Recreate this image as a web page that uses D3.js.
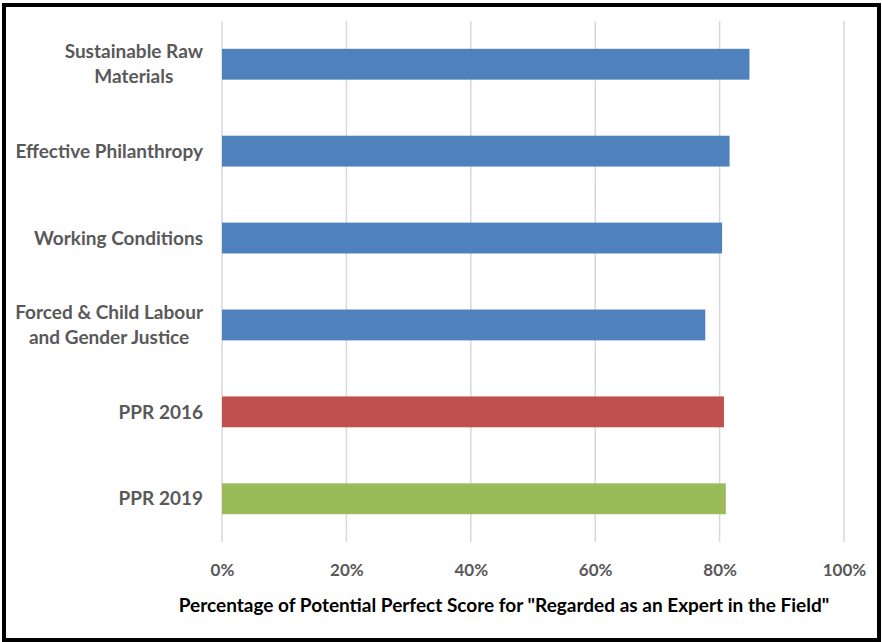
<!DOCTYPE html>
<html>
<head>
<meta charset="utf-8">
<script src="https://cdn.jsdelivr.net/npm/d3@7"></script>
<style>
  html, body { margin: 0; padding: 0; background: #fff; }
  svg { display: block; }
  text { font-family: "Lato", "Open Sans", sans-serif; font-weight: 700; }
</style>
</head>
<body>
<svg id="chart" width="882" height="642"></svg>
<script>
// Category labels (each line of a wrapped label is its own entry)
const categories = [
  ["Sustainable Raw", "Materials"],
  ["Effective Philanthropy"],
  ["Working Conditions"],
  ["Forced & Child Labour", "and Gender Justice"],
  ["PPR 2016"],
  ["PPR 2019"]
];
// Share of the potential perfect score, per category
const values = [0.848, 0.816, 0.804, 0.777, 0.807, 0.810];
const barColors = ["#4f81bd", "#4f81bd", "#4f81bd", "#4f81bd", "#c0504d", "#9bbb59"];
const tickValues = [0, 0.2, 0.4, 0.6, 0.8, 1.0];
const axisTitle = 'Percentage of Potential Perfect Score for "Regarded as an Expert in the Field"';

const svg = d3.select("#chart");
const W = 882, H = 642;

// outer frame
svg.append("rect")
  .attr("x", 4).attr("y", 5)
  .attr("width", W - 7).attr("height", H - 7)
  .attr("fill", "#fff")
  .attr("stroke", "#000")
  .attr("stroke-width", 4);

const plot = { left: 222, right: 844, top: 21, bottom: 542 };

const x = d3.scaleLinear().domain([0, 1]).range([plot.left, plot.right]);
const y = d3.scaleBand()
  .domain(d3.range(categories.length))
  .range([plot.top, plot.bottom])
  .paddingInner(0.645)
  .paddingOuter(0.32);

// vertical gridlines
svg.append("g")
  .selectAll("line")
  .data(tickValues)
  .join("line")
  .attr("x1", d => x(d)).attr("x2", d => x(d))
  .attr("y1", plot.top).attr("y2", plot.bottom)
  .attr("stroke", "#d9d9d9")
  .attr("stroke-width", 1.5);

// bars
svg.append("g")
  .selectAll("rect")
  .data(values)
  .join("rect")
  .attr("x", x(0))
  .attr("y", (d, i) => y(i))
  .attr("width", d => x(d) - x(0))
  .attr("height", y.bandwidth())
  .attr("fill", (d, i) => barColors[i]);

// category labels: the block is right-aligned, wrapped lines centred within it
const lineGap = 25;
const labelRight = 203;
const lbl = svg.append("g")
  .selectAll("text")
  .data(categories)
  .join("text")
  .attr("text-anchor", "middle")
  .attr("fill", "#595959")
  .attr("font-size", 19);
lbl.each(function(lines, i) {
  const cy = y(i) + y.bandwidth() / 2;
  const t = d3.select(this);
  const spans = lines.map((ln, k) =>
    t.append("tspan")
      .attr("y", cy + (k - (lines.length - 1) / 2) * lineGap)
      .attr("dy", "0.35em")
      .text(ln));
  const maxW = d3.max(spans, s => s.node().getComputedTextLength());
  spans.forEach(s => s.attr("x", labelRight - maxW / 2));
});

// x axis tick labels
const axis = d3.axisBottom(x)
  .tickValues(tickValues)
  .tickFormat(d3.format(".0%"))
  .tickSize(0)
  .tickPadding(0);
const ax = svg.append("g")
  .attr("transform", `translate(0,${plot.bottom})`)
  .call(axis);
ax.select(".domain").remove();
ax.selectAll("text")
  .attr("y", 34)
  .attr("dy", 0)
  .attr("fill", "#595959")
  .attr("font-size", 17)
  .attr("font-family", "Lato, 'Open Sans', sans-serif")
  .attr("font-weight", 700);

// axis title
svg.append("text")
  .attr("x", (176 + 832) / 2)
  .attr("y", 612)
  .attr("text-anchor", "middle")
  .attr("fill", "#000")
  .attr("font-size", 19)
  .text(axisTitle);
</script>
</body>
</html>
